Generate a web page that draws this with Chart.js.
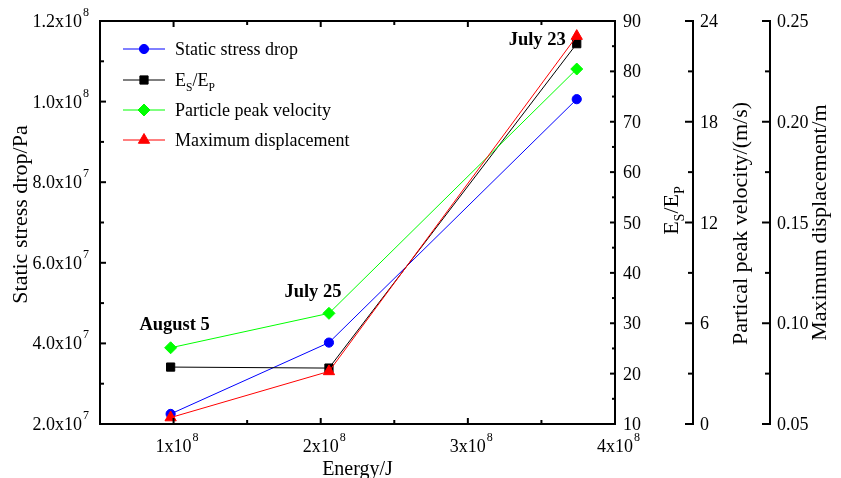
<!DOCTYPE html>
<html><head><meta charset="utf-8">
<script src="https://cdn.jsdelivr.net/npm/chart.js@4.4.1/dist/chart.umd.min.js"></script>
<style>html,body{margin:0;padding:0;background:#fff;}canvas{display:block;}</style>
</head><body>
<canvas id="c" width="841" height="478"></canvas>
<script>
// ---- data ----
const eventNames = ['August 5', 'July 25', 'July 23'];
const energy = [0.98e8, 2.056e8, 3.74e8];
const stressDrop = [2.25e7, 4.02e7, 1.006e8];
const esEp = [21.3, 21.1, 85.5];
const peakVelocity = [4.54, 6.59, 21.14];
const maxDisplacement = [0.0532, 0.0761, 0.2425];

const seriesNames = ['Static stress drop', 'E_S/E_P', 'Particle peak velocity', 'Maximum displacement'];

const xTicks = [1e8, 2e8, 3e8, 4e8];
const xTickLabels = ['1x10^8', '2x10^8', '3x10^8', '4x10^8'];
const xMinor = [1.5e8, 2.5e8, 3.5e8];
const yTicks = [2e7, 4e7, 6e7, 8e7, 1e8, 1.2e8];
const yTickLabels = ['2.0x10^7', '4.0x10^7', '6.0x10^7', '8.0x10^7', '1.0x10^8', '1.2x10^8'];
const yMinor = [3e7, 5e7, 7e7, 9e7, 1.1e8];
const y1Ticks = [10, 20, 30, 40, 50, 60, 70, 80, 90];
const y1Minor = [15, 25, 35, 45, 55, 65, 75, 85];
const y2Ticks = [0, 6, 12, 18, 24];
const y2Minor = [3, 9, 15, 21];
const y3Ticks = [0.05, 0.10, 0.15, 0.20, 0.25];
const y3TickLabels = ['0.05', '0.10', '0.15', '0.20', '0.25'];
const y3Minor = [0.075, 0.125, 0.175, 0.225];

const FONT = '"Liberation Serif","Times New Roman",serif';
const font = (s, b) => (b ? 'bold ' : '') + s + 'px ' + FONT;

function pts(vals) { return vals.map((v, i) => ({ x: energy[i], y: v })); }

function drawSup(ctx, label, x, y, align) {
  const parts = label.split('^');
  const base = parts[0], exp = parts[1];
  ctx.font = font(18);
  const bw = ctx.measureText(base).width;
  ctx.font = font(12);
  const ew = exp ? ctx.measureText(exp).width + 1 : 0;
  let x0 = x;
  if (align === 'right') x0 = x - bw - ew;
  else if (align === 'center') x0 = x - bw / 2;
  ctx.textAlign = 'left'; ctx.textBaseline = 'alphabetic';
  ctx.font = font(18); ctx.fillText(base, x0, y);
  if (exp) { ctx.font = font(12); ctx.fillText(exp, x0 + bw + 1, y - 11); }
}

// draws E_S/E_P with subscripts at current transform; align center or left
function drawEsEp(ctx, x, y, size, align) {
  const sub = size * 0.64, off = size * 0.28;
  const parts = [['E', size, 0], ['S', sub, off], ['/', size, 0], ['E', size, 0], ['P', sub, off]];
  let total = 0;
  parts.forEach(p => { ctx.font = font(p[1]); total += ctx.measureText(p[0]).width; });
  let cx = align === 'center' ? x - total / 2 : x;
  ctx.textAlign = 'left'; ctx.textBaseline = 'alphabetic';
  parts.forEach(p => { ctx.font = font(p[1]); ctx.fillText(p[0], cx, y + p[2]); cx += ctx.measureText(p[0]).width; });
}

function line(ctx, x1, y1, x2, y2) { ctx.beginPath(); ctx.moveTo(x1, y1); ctx.lineTo(x2, y2); ctx.stroke(); }

function rotText(ctx, text, x, y, size) {
  ctx.save(); ctx.translate(x, y); ctx.rotate(-Math.PI / 2);
  ctx.font = font(size); ctx.textAlign = 'center'; ctx.textBaseline = 'alphabetic';
  ctx.fillText(text, 0, 0); ctx.restore();
}

const axesPlugin = {
  id: 'axesPlugin',
  afterDraw(chart) {
    const ctx = chart.ctx, a = chart.chartArea, s = chart.scales;
    ctx.save();
    ctx.strokeStyle = '#000'; ctx.fillStyle = '#000'; ctx.lineWidth = 2; ctx.lineCap = 'butt';
    // frame
    line(ctx, a.left, a.top - 1, a.left, a.bottom + 1);
    line(ctx, a.right, a.top - 1, a.right, a.bottom + 1);
    line(ctx, a.left - 1, a.top, a.right + 1, a.top);
    line(ctx, a.left - 1, a.bottom, a.right + 1, a.bottom);
    // x ticks bottom & top (inward)
    xTicks.forEach((v, i) => {
      const px = s.x.getPixelForValue(v);
      line(ctx, px, a.bottom, px, a.bottom - 6);
      line(ctx, px, a.top, px, a.top + 6);
      drawSup(ctx, xTickLabels[i], px, a.bottom + 28, 'center');
    });
    xMinor.forEach(v => {
      const px = s.x.getPixelForValue(v);
      line(ctx, px, a.bottom, px, a.bottom - 4);
      line(ctx, px, a.top, px, a.top + 4);
    });
    // left y
    yTicks.forEach((v, i) => {
      const py = s.y.getPixelForValue(v);
      line(ctx, a.left, py, a.left + 6, py);
      drawSup(ctx, yTickLabels[i], a.left - 11, py + 6, 'right');
    });
    yMinor.forEach(v => { const py = s.y.getPixelForValue(v); line(ctx, a.left, py, a.left + 4, py); });
    // y1 (frame right)
    ctx.font = font(18); ctx.textAlign = 'left'; ctx.textBaseline = 'alphabetic';
    y1Ticks.forEach(v => {
      const py = s.y1.getPixelForValue(v);
      line(ctx, a.right, py, a.right - 5, py);
      ctx.font = font(18); ctx.fillText(String(v), a.right + 8, py + 6);
    });
    y1Minor.forEach(v => { const py = s.y1.getPixelForValue(v); line(ctx, a.right, py, a.right - 3, py); });
    // y2 and y3 offset axes
    [[s.y2, y2Ticks, y2Ticks.map(String), y2Minor], [s.y3, y3Ticks, y3TickLabels, y3Minor]].forEach(([sc, tk, lb, mn]) => {
      const x0 = sc.left;
      line(ctx, x0, a.top - 1, x0, a.bottom + 1);
      tk.forEach((v, i) => {
        const py = sc.getPixelForValue(v);
        line(ctx, x0 - 8, py, x0 + 1, py);
        ctx.font = font(18); ctx.textAlign = 'left';
        ctx.fillText(lb[i], x0 + 7, py + 6);
      });
      mn.forEach(v => { const py = sc.getPixelForValue(v); line(ctx, x0 - 5, py, x0 + 1, py); });
    });
    // axis titles
    const midY = (a.top + a.bottom) / 2;
    rotText(ctx, 'Static stress drop/Pa', 27, midY - 8, 22);
    ctx.font = font(20); ctx.textAlign = 'center'; ctx.textBaseline = 'alphabetic';
    ctx.fillText('Energy/J', (a.left + a.right) / 2, 475);
    ctx.save(); ctx.translate(s.y1.left + 63, midY - 12); ctx.rotate(-Math.PI / 2);
    drawEsEp(ctx, 0, 0, 22, 'center'); ctx.restore();
    rotText(ctx, 'Partical peak velocity/(m/s)', s.y2.left + 54, midY + 1, 22);
    rotText(ctx, 'Maximum displacement/m', s.y3.left + 56, midY, 22);

    // annotations
    ctx.font = font(18.5, true); ctx.textBaseline = 'alphabetic';
    let gx = s.x.getPixelForValue(energy[0]), gy = s.y2.getPixelForValue(peakVelocity[0]);
    ctx.textAlign = 'center'; ctx.fillText(eventNames[0], gx + 4, gy - 18);
    gx = s.x.getPixelForValue(energy[1]); gy = s.y2.getPixelForValue(peakVelocity[1]);
    ctx.fillText(eventNames[1], gx - 16, gy - 16);
    gx = s.x.getPixelForValue(energy[2]); gy = s.y3.getPixelForValue(maxDisplacement[2]);
    ctx.textAlign = 'right'; ctx.fillText(eventNames[2], gx - 11, gy + 9);

    // legend
    const ds = chart.data.datasets;
    const rows = [49, 80, 110, 140];
    ds.forEach((d, i) => {
      const y = rows[i];
      ctx.strokeStyle = d.borderColor; ctx.lineWidth = 1;
      line(ctx, 123, y, 165, y);
      ctx.fillStyle = d.pointBackgroundColor; ctx.strokeStyle = d.borderColor;
      Chart.helpers.drawPoint(ctx, { pointStyle: d.pointStyle, radius: d.pointRadius, borderWidth: 1, rotation: 0 }, 144, y);
      ctx.fillStyle = '#000';
      if (seriesNames[i] === 'E_S/E_P') drawEsEp(ctx, 175, y + 6, 18, 'left');
      else { ctx.font = font(18); ctx.textAlign = 'left'; ctx.fillText(seriesNames[i], 175, y + 6); }
    });
    ctx.restore();
  }
};

const common = { borderWidth: 1, pointBorderWidth: 1, showLine: true, tension: 0, clip: false };
new Chart(document.getElementById('c'), {
  type: 'line',
  data: {
    datasets: [
      Object.assign({ label: seriesNames[0], data: pts(stressDrop), yAxisID: 'y', borderColor: '#0000ff', backgroundColor: '#0000ff', pointBackgroundColor: '#0000ff', pointStyle: 'circle', pointRadius: 4.6, order: 4 }, common),
      Object.assign({ label: seriesNames[1], data: pts(esEp), yAxisID: 'y1', borderColor: '#000000', backgroundColor: '#000000', pointBackgroundColor: '#000000', pointStyle: 'rect', pointRadius: 5.8, order: 3 }, common),
      Object.assign({ label: seriesNames[2], data: pts(peakVelocity), yAxisID: 'y2', borderColor: '#00ff00', backgroundColor: '#00ff00', pointBackgroundColor: '#00ff00', pointStyle: 'rectRot', pointRadius: 6, order: 2 }, common),
      Object.assign({ label: seriesNames[3], data: pts(maxDisplacement), yAxisID: 'y3', borderColor: '#ff0000', backgroundColor: '#ff0000', pointBackgroundColor: '#ff0000', pointStyle: 'triangle', pointRadius: 6.5, order: 1 }, common)
    ]
  },
  options: {
    responsive: false, animation: false, devicePixelRatio: 1,
    layout: { padding: { top: 21, left: 0, right: 0, bottom: 0 } },
    plugins: { legend: { display: false }, tooltip: { enabled: false } },
    scales: {
      x: { type: 'linear', position: 'bottom', min: 0.5e8, max: 4e8, grid: { display: false }, border: { display: false }, ticks: { display: false }, afterFit: sc => { sc.height = 54; } },
      y: { type: 'linear', position: 'left', min: 2e7, max: 1.2e8, grid: { display: false }, border: { display: false }, ticks: { display: false }, afterFit: sc => { sc.width = 100; } },
      y1: { type: 'linear', position: 'right', weight: 0, min: 10, max: 90, grid: { display: false }, border: { display: false }, ticks: { display: false }, afterFit: sc => { sc.width = 78; } },
      y2: { type: 'linear', position: 'right', weight: 1, min: 0, max: 24, grid: { display: false }, border: { display: false }, ticks: { display: false }, afterFit: sc => { sc.width = 77; } },
      y3: { type: 'linear', position: 'right', weight: 2, min: 0.05, max: 0.25, grid: { display: false }, border: { display: false }, ticks: { display: false }, afterFit: sc => { sc.width = 71; } }
    }
  },
  plugins: [axesPlugin]
});
</script>
</body></html>
